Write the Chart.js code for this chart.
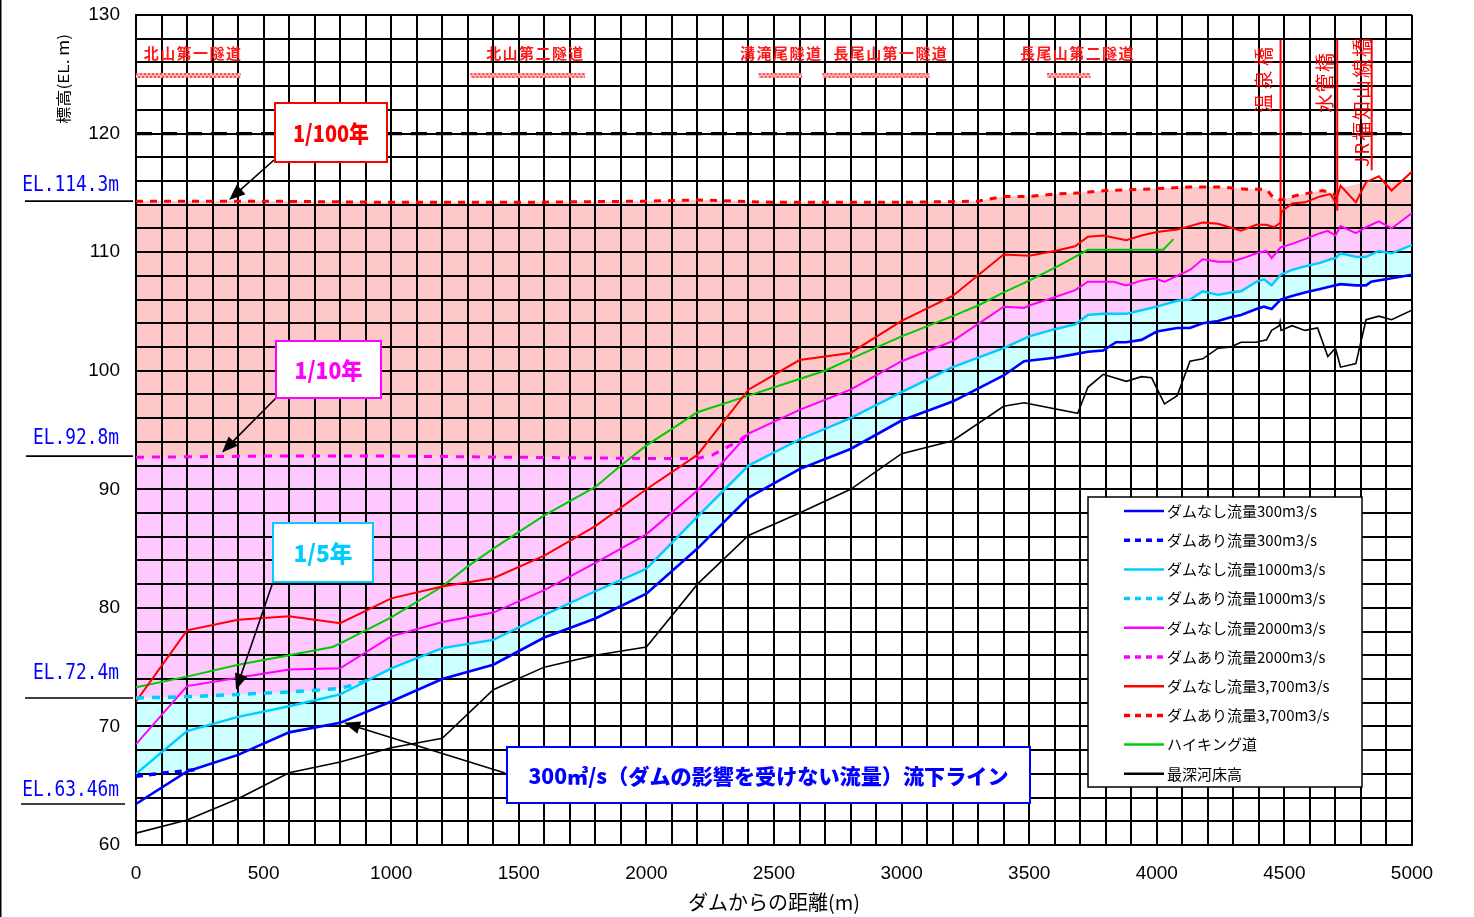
<!DOCTYPE html>
<html>
<head>
<meta charset="utf-8">
<script src="https://cdn.jsdelivr.net/npm/chart.js@4"></script>
<style>
  html, body { margin: 0; padding: 0; background: #fff; }
  canvas { display: block; }
</style>
</head>
<body>
<canvas id="c" width="1474" height="917"></canvas>
<script>
// ---- Water surface profiles: [distance from dam (m), elevation EL.m] ----
const noDam300 = [[0,63.46],[200,66.2],[400,67.6],[600,69.5],[800,70.3],[1000,72.1],[1200,74.0],[1400,75.2],[1600,77.5],[1800,79.1],[2000,81.2],[2200,85.0],[2400,89.3],[2600,91.7],[2800,93.4],[3000,95.8],[3200,97.4],[3400,99.6],[3480,100.8],[3600,101.1],[3680,101.4],[3730,101.6],[3790,101.7],[3840,102.4],[3880,102.4],[3940,102.6],[4000,103.3],[4080,103.6],[4130,103.6],[4180,104.0],[4240,104.2],[4290,104.5],[4330,104.7],[4390,105.2],[4420,105.4],[4450,105.2],[4485,106.0],[4530,106.3],[4580,106.6],[4640,106.9],[4680,107.1],[4720,107.3],[4780,107.2],[4820,107.2],[4840,107.5],[4920,107.8],[5000,108.1]];
const withDam300 = [[0,65.8],[250,66.4]];

const noDam1000 = [[0,66.0],[200,69.6],[400,70.8],[600,71.7],[800,72.7],[1000,74.9],[1200,76.6],[1400,77.3],[1600,79.4],[1800,81.4],[2000,83.3],[2200,87.7],[2400,92.0],[2600,94.2],[2800,96.0],[3000,98.2],[3200,100.3],[3400,101.9],[3500,102.9],[3600,103.5],[3680,103.9],[3730,104.7],[3790,104.8],[3880,104.8],[3940,105.1],[4000,105.4],[4080,105.9],[4130,106.0],[4180,106.7],[4240,106.4],[4290,106.6],[4330,106.7],[4390,107.5],[4420,107.7],[4450,107.2],[4485,108.1],[4530,108.5],[4580,108.8],[4640,109.1],[4680,109.4],[4700,109.5],[4720,109.9],[4780,109.6],[4820,109.6],[4870,110.1],[4920,109.9],[5000,110.6]];
const withDam1000 = [[0,72.4],[200,72.5],[400,72.7],[600,72.9],[800,73.2],[870,73.6],[920,74.0]];

const noDam2000 = [[0,68.5],[200,73.4],[400,74.1],[600,74.8],[800,74.9],[1000,77.6],[1200,78.8],[1400,79.6],[1600,81.5],[1800,83.8],[2000,86.2],[2200,89.9],[2400,94.7],[2600,96.7],[2800,98.4],[3000,100.8],[3200,102.5],[3400,105.4],[3480,105.3],[3500,105.5],[3600,106.2],[3680,106.8],[3730,107.5],[3790,107.5],[3830,107.5],[3880,107.2],[3940,107.6],[3990,107.8],[4030,107.5],[4080,108.0],[4130,108.5],[4180,109.4],[4240,109.2],[4290,109.2],[4340,109.5],[4390,109.9],[4430,110.1],[4450,109.5],[4485,110.4],[4530,110.7],[4580,111.1],[4640,111.6],[4670,111.8],[4700,111.4],[4720,112.2],[4780,111.6],[4820,112.1],[4870,112.6],[4920,112.0],[5000,113.3]];
const withDam2000 = [[0,92.7],[500,92.8],[1000,92.8],[1500,92.7],[2000,92.6],[2200,92.6],[2260,92.9],[2320,93.6],[2370,94.2],[2400,94.7]];

const noDam3700 = [[0,72.1],[200,78.1],[400,79.0],[600,79.3],[800,78.7],[1000,80.8],[1200,81.8],[1400,82.5],[1600,84.4],[1800,86.9],[2000,90.0],[2200,92.9],[2400,98.4],[2600,100.9],[2800,101.5],[3000,104.2],[3200,106.3],[3400,109.8],[3500,109.7],[3600,110.1],[3680,110.5],[3730,111.3],[3790,111.4],[3880,111.0],[3940,111.4],[4000,111.7],[4080,111.9],[4180,112.5],[4240,112.4],[4330,111.8],[4390,112.3],[4430,112.3],[4460,112.1],[4485,112.5],[4488,113.4],[4530,114.1],[4580,114.2],[4640,114.7],[4680,114.9],[4700,114.2],[4720,115.6],[4780,114.2],[4820,115.9],[4870,116.4],[4920,115.2],[5000,116.8]];
const withDam3700 = [[0,114.3],[500,114.3],[1000,114.2],[1500,114.2],[2000,114.3],[2200,114.4],[2500,114.2],[3000,114.2],[3300,114.3],[3400,114.7],[3500,114.7],[3600,114.9],[3700,115.0],[3800,115.2],[3950,115.3],[4130,115.5],[4250,115.5],[4350,115.3],[4430,115.3],[4460,114.5],[4485,114.4],[4550,114.8],[4600,115.0],[4650,115.2],[4690,114.9],[4705,114.7]];
// upper edge of the 1/100 band beyond the last with-dam section
const band100Tail = [[4720,115.4],[4800,115.8],[5000,115.9]];

const hikingTrail = [[0,73.3],[200,74.2],[400,75.2],[600,76.0],[770,76.7],[800,77.0],[1000,79.2],[1200,81.8],[1300,83.5],[1400,85.0],[1600,87.8],[1800,90.2],[1900,92.0],[2000,93.7],[2100,95.1],[2200,96.5],[2400,97.9],[2600,99.3],[2700,100.0],[2800,101.0],[3000,102.9],[3200,104.6],[3300,105.5],[3400,106.6],[3500,107.6],[3620,108.9],[3730,110.2],[4025,110.2],[4065,111.1]];

const riverbed = [[0,61.0],[200,62.1],[400,63.9],[600,66.1],[800,67.0],[1000,68.2],[1200,69.0],[1400,73.1],[1600,75.0],[1800,76.0],[2000,76.7],[2200,82.0],[2400,86.1],[2600,88.0],[2800,90.0],[3000,93.0],[3200,94.1],[3400,97.0],[3480,97.3],[3690,96.4],[3730,98.6],[3790,99.7],[3880,99.1],[3940,99.5],[3980,99.4],[4030,97.2],[4080,97.9],[4130,100.8],[4180,101.0],[4240,101.9],[4290,102.0],[4330,102.4],[4390,102.4],[4430,102.6],[4450,103.4],[4480,103.8],[4483,104.1],[4487,103.4],[4530,103.8],[4580,103.4],[4630,103.6],[4670,101.2],[4700,101.9],[4720,100.3],[4780,100.6],[4820,104.3],[4870,104.6],[4920,104.3],[5000,105.1]];

const seriesLabels = ['ダムなし流量300m3/s','ダムあり流量300m3/s','ダムなし流量1000m3/s','ダムあり流量1000m3/s','ダムなし流量2000m3/s','ダムあり流量2000m3/s','ダムなし流量3,700m3/s','ダムあり流量3,700m3/s','ハイキング道','最深河床高'];

// ---- Reference levels, structures ----
const elLevels = [114.3, 92.8, 72.4, 63.46];
const elLabels = ['EL.114.3m', 'EL.92.8m', 'EL.72.4m', 'EL.63.46m'];
const referenceLevel = 120;

const tunnelNames = ['北山第一隧道', '北山第二隧道', '溝滝尾隧道', '長尾山第一隧道', '長尾山第二隧道'];
const tunnelStart = [0, 1310, 2440, 2690, 3570];
const tunnelEnd   = [410, 1760, 2610, 3110, 3740];

const bridgeNames  = ['温泉橋', '水管橋', 'JR福知山線橋'];
const bridgeDist   = [4485, 4707, 4842];
const bridgeTop    = [127.9, 127.9, 127.9];
const bridgeBottom = [110.9, 113.5, 116.9];

const returnPeriodLabels = ['1/100年', '1/10年', '1/5年', '300㎥/s（ダムの影響を受けない流量）流下ライン'];
// points the callout arrows refer to: [distance, elevation]
const returnPeriodTargets = [[365, 114.4], [337, 93.1], [392, 73.1], [815, 70.3]];

const xTickStep = 100, xLabelStep = 500;
const yTickStep = 2, yLabelStep = 10;

// ---- helpers ----
const pts = arr => arr.map(([x, y]) => ({x, y}));
const after = (arr, d) => arr.filter(p => p[0] > d);

const C_BLUE = '#0000FF', C_CYAN = '#00CCFF', C_MAG = '#FF00FF', C_RED = '#FF0000', C_GREEN = '#00CC00', C_BLACK = '#000000';
const FILL_100 = 'rgb(255,200,200)', FILL_10 = 'rgb(255,200,255)', FILL_5 = 'rgb(204,255,255)';

function lineDs(label, data, color, width, dash) {
  return { label, data: pts(data), borderColor: color, backgroundColor: color, borderWidth: width,
           borderDash: dash || [], pointRadius: 0, pointHoverRadius: 0, fill: false, tension: 0 };
}
function bandDs(data, target, color) {
  return { label: '', data: pts(data), borderColor: 'rgba(0,0,0,0)', borderWidth: 0, pointRadius: 0,
           tension: 0, fill: target === null ? false : { target, above: color, below: color } };
}

const datasets = [
  lineDs(seriesLabels[0], noDam300, C_BLUE, 2.6),
  lineDs(seriesLabels[1], withDam300, C_BLUE, 3.5, [7, 6]),
  lineDs(seriesLabels[2], noDam1000, C_CYAN, 2.4),
  lineDs(seriesLabels[3], withDam1000, C_CYAN, 3.5, [8, 8]),
  lineDs(seriesLabels[4], noDam2000, C_MAG, 2),
  lineDs(seriesLabels[5], withDam2000, C_MAG, 3, [8, 8]),
  lineDs(seriesLabels[6], noDam3700, C_RED, 2),
  lineDs(seriesLabels[7], withDam3700, C_RED, 3, [7, 7]),
  lineDs(seriesLabels[8], hikingTrail, C_GREEN, 2),
  lineDs(seriesLabels[9], riverbed, C_BLACK, 1.6),
  // shaded bands between flood levels (indices 10..13)
  bandDs(withDam3700.concat(band100Tail), 11, FILL_100),
  bandDs(withDam2000.concat(after(noDam2000, 2400)), 12, FILL_10),
  bandDs(withDam1000.concat(after(noDam1000, 920)), 13, FILL_5),
  bandDs(withDam300.concat(after(noDam300, 250)), null, null)
];

// draw text, optionally spread (letter spacing) or squeezed to a given width
function drawText(ctx, text, cx, cy, o) {
  ctx.save();
  ctx.font = o.font;
  ctx.fillStyle = o.color || '#000';
  ctx.textBaseline = 'middle';
  const align = o.align || 'center';
  const w = ctx.measureText(text).width;
  ctx.translate(cx, cy);
  if (o.rotate) ctx.rotate(o.rotate);
  const chars = Array.from(text);
  if (o.width && o.spread && o.width > w && chars.length > 1) {
    const sp = (o.width - w) / (chars.length - 1);
    let xx = align === 'center' ? -o.width / 2 : (align === 'right' ? -o.width : 0);
    ctx.textAlign = 'left';
    for (const ch of chars) { ctx.fillText(ch, xx, 0); xx += ctx.measureText(ch).width + sp; }
  } else {
    const s = o.width ? o.width / w : 1;
    ctx.scale(s, 1);
    ctx.textAlign = align;
    ctx.fillText(text, 0, 0);
  }
  ctx.restore();
}

function arrow(ctx, x0, y0, x1, y1) {
  const ang = Math.atan2(y1 - y0, x1 - x0);
  const L = 16, H = 6.5;
  ctx.save();
  ctx.strokeStyle = '#000'; ctx.fillStyle = '#000'; ctx.lineWidth = 1.6; ctx.setLineDash([]);
  ctx.beginPath(); ctx.moveTo(x0, y0);
  ctx.lineTo(x1 - Math.cos(ang) * L * 0.8, y1 - Math.sin(ang) * L * 0.8); ctx.stroke();
  ctx.beginPath();
  ctx.moveTo(x1, y1);
  ctx.lineTo(x1 - Math.cos(ang) * L - Math.sin(ang) * H, y1 - Math.sin(ang) * L + Math.cos(ang) * H);
  ctx.lineTo(x1 - Math.cos(ang) * L + Math.sin(ang) * H, y1 - Math.sin(ang) * L - Math.cos(ang) * H);
  ctx.closePath(); ctx.fill();
  ctx.restore();
}

const JP = '"Noto Sans CJK JP", "Noto Sans", sans-serif';

const overlay = {
  id: 'overlay',
  afterDraw(chart) {
    const {ctx, scales: {x, y}, chartArea: ca} = chart;
    const px = v => x.getPixelForValue(v), py = v => y.getPixelForValue(v);
    ctx.save();

    // outer frame edge
    ctx.fillStyle = '#000';
    ctx.fillRect(0, 0, 1.5, chart.height);

    // reference level line
    ctx.strokeStyle = '#000'; ctx.lineWidth = 3.2; ctx.setLineDash([16, 9]);
    ctx.beginPath(); ctx.moveTo(ca.left, py(referenceLevel)); ctx.lineTo(ca.right, py(referenceLevel)); ctx.stroke();
    ctx.setLineDash([]);

    // tunnels: hatched bar with the name above it
    const tunnelLabelShift = [4, 7, 0, 14, 8];
    tunnelNames.forEach((name, i) => {
      const x0 = px(tunnelStart[i]), x1 = px(tunnelEnd[i]);
      const by = ca.top + 58;
      ctx.fillStyle = '#ffb4b4'; ctx.fillRect(x0, by, x1 - x0, 5);
      ctx.strokeStyle = '#ff3030'; ctx.lineWidth = 1.5; ctx.setLineDash([2, 2]);
      ctx.beginPath(); ctx.moveTo(x0, by + 1); ctx.lineTo(x1, by + 1); ctx.stroke();
      ctx.lineDashOffset = 2;
      ctx.beginPath(); ctx.moveTo(x0, by + 4); ctx.lineTo(x1, by + 4); ctx.stroke();
      ctx.lineDashOffset = 0; ctx.setLineDash([]);
      drawText(ctx, name, (x0 + x1) / 2 + tunnelLabelShift[i], ca.top + 38,
        {font: '700 15px ' + JP, color: '#FF1A1A', width: Array.from(name).length * 16.2, spread: true});
    });

    // bridges
    const bridgeLabelOffset = [[-17, 80], [-12, 83], [-10, 102.5]];
    const bridgeLabelLen = [66, 60, 129];
    bridgeNames.forEach((name, i) => {
      const bx = px(bridgeDist[i]);
      ctx.strokeStyle = C_RED; ctx.lineWidth = 2;
      ctx.beginPath(); ctx.moveTo(bx, py(bridgeTop[i])); ctx.lineTo(bx, py(bridgeBottom[i])); ctx.stroke();
      drawText(ctx, name, bx + bridgeLabelOffset[i][0], bridgeLabelOffset[i][1],
        {font: '19px ' + JP, color: C_RED, width: bridgeLabelLen[i], spread: true, rotate: -Math.PI / 2});
    });

    // elevation markers on the left
    const elTextOffset = [16, 18, 25, 14];
    const elLineX = [[25, 133], [26, 133], [25, 133], [21, 125]];
    elLevels.forEach((lv, i) => {
      const ly = py(lv);
      ctx.strokeStyle = '#000'; ctx.lineWidth = 1.6;
      ctx.beginPath(); ctx.moveTo(elLineX[i][0], ly); ctx.lineTo(elLineX[i][1], ly); ctx.stroke();
      drawText(ctx, elLabels[i], 119, ly - elTextOffset[i],
        {font: '22px "DejaVu Sans Mono", monospace', color: C_BLUE, width: elLabels[i].length * 10.75, align: 'right'});
    });

    // vertical axis title
    drawText(ctx, '標高(EL. m)', 63, 79, {font: '15px ' + JP, color: '#000', width: 90, rotate: -Math.PI / 2});

    // return-period callouts
    const boxes = [
      {x: 275, y: 103, w: 112, h: 59, color: C_RED, tw: 76, font: '900 23px ' + JP, from: [274, 160]},
      {x: 276, y: 341, w: 105, h: 57, color: C_MAG, tw: 68, font: '900 23px ' + JP, from: [276, 398]},
      {x: 273, y: 523, w: 100, h: 59, color: C_CYAN, tw: 59, font: '900 23px ' + JP, from: [273, 582]},
      {x: 507, y: 747, w: 523, h: 56, color: C_BLUE, tw: 480, font: '900 21px ' + JP, from: [505, 773]}
    ];
    boxes.forEach((b, i) => {
      const [td, tv] = returnPeriodTargets[i];
      arrow(ctx, b.from[0], b.from[1], px(td), py(tv));
      ctx.fillStyle = '#fff'; ctx.fillRect(b.x, b.y, b.w, b.h);
      ctx.strokeStyle = b.color; ctx.lineWidth = 2; ctx.strokeRect(b.x, b.y, b.w, b.h);
      drawText(ctx, returnPeriodLabels[i], b.x + b.w / 2, b.y + b.h / 2 + 1, {font: b.font, color: b.color, width: b.tw});
    });

    // legend
    const lg = {x: 1088, y: 497, w: 274, h: 290};
    ctx.fillStyle = '#fff'; ctx.fillRect(lg.x, lg.y, lg.w, lg.h);
    ctx.strokeStyle = '#000'; ctx.lineWidth = 1.5; ctx.strokeRect(lg.x, lg.y, lg.w, lg.h);
    for (let i = 0; i < 10; i++) {
      const ds = chart.data.datasets[i];
      const ry = 511 + i * 29.2;
      const dashed = ds.borderDash && ds.borderDash.length;
      ctx.strokeStyle = ds.borderColor; ctx.lineWidth = dashed ? 3.5 : 2.5;
      ctx.setLineDash(dashed ? [6, 5] : []);
      ctx.beginPath(); ctx.moveTo(1124, ry); ctx.lineTo(1164, ry); ctx.stroke();
      ctx.setLineDash([]);
      ctx.fillStyle = '#000'; ctx.font = '15px ' + JP; ctx.textAlign = 'left'; ctx.textBaseline = 'middle';
      ctx.fillText(ds.label, 1167, ry);
    }
    ctx.restore();
  }
};

new Chart(document.getElementById('c'), {
  type: 'line',
  data: { datasets },
  plugins: [overlay],
  options: {
    responsive: false,
    animation: false,
    devicePixelRatio: 1,
    layout: { padding: { top: 15, right: 62, left: 0, bottom: 0 } },
    plugins: {
      legend: { display: false },
      tooltip: { enabled: false },
      filler: { drawTime: 'beforeDraw', propagate: false }
    },
    scales: {
      x: {
        type: 'linear', min: 0, max: 5000,
        ticks: {
          stepSize: xTickStep, maxTicksLimit: 100, autoSkip: false, maxRotation: 0, padding: 17,
          color: '#000', font: { family: '"Liberation Sans", Arial, sans-serif', size: 19 },
          callback: v => (v % xLabelStep === 0 ? String(v) : '')
        },
        grid: { color: '#000', lineWidth: 2, drawTicks: false },
        border: { color: '#000', width: 2 },
        title: { display: true, text: 'ダムからの距離(m)', color: '#000',
                 font: { family: JP, size: 20 }, padding: { top: 0, bottom: 3 } },
        afterFit: s => { s.height = 72; s.paddingLeft = 0; s.paddingRight = 0; }
      },
      y: {
        type: 'linear', min: 60, max: 130,
        ticks: {
          stepSize: yTickStep, maxTicksLimit: 100, autoSkip: false, padding: 16,
          color: '#000', font: { family: '"Liberation Sans", Arial, sans-serif', size: 19 },
          callback: v => (v % yLabelStep === 0 ? String(v) : '')
        },
        grid: { color: '#000', lineWidth: 2, drawTicks: false },
        border: { color: '#000', width: 2 },
        afterFit: s => { s.width = 136; s.paddingTop = 0; s.paddingBottom = 0; }
      }
    }
  }
});
</script>
</body>
</html>
